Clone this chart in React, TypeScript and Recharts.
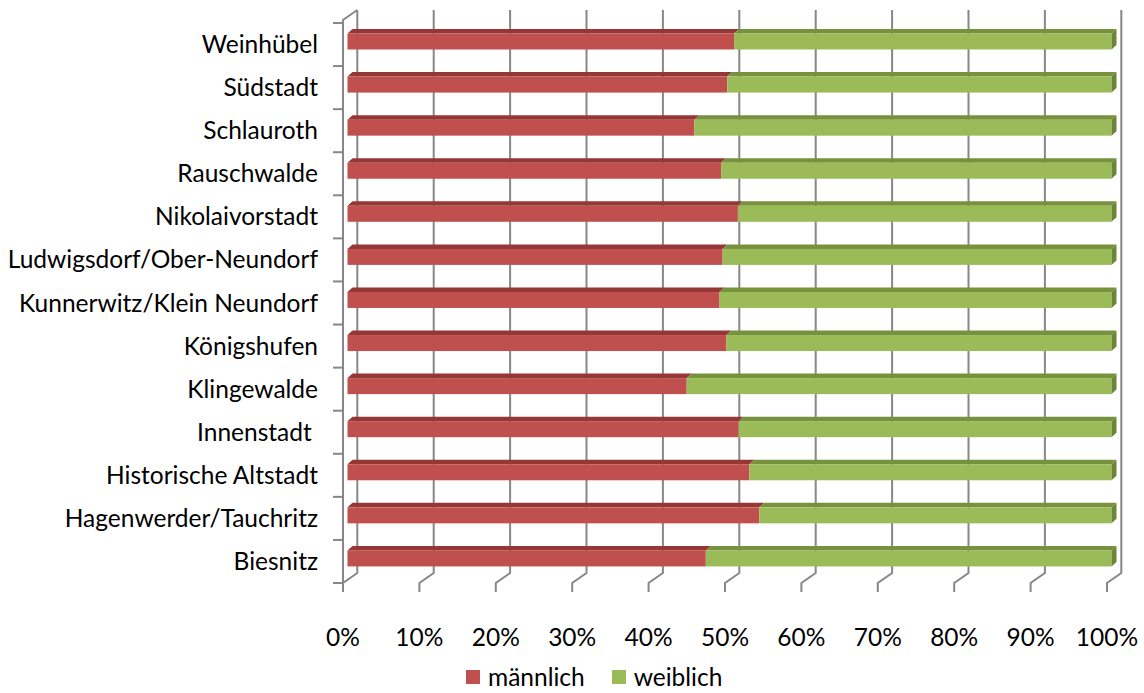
import React from "react";
import { Bar, BarChart, CartesianGrid, XAxis, YAxis } from "recharts";

const districts = [
  "Weinhübel",
  "Südstadt",
  "Schlauroth",
  "Rauschwalde",
  "Nikolaivorstadt",
  "Ludwigsdorf/Ober-Neundorf",
  "Kunnerwitz/Klein Neundorf",
  "Königshufen",
  "Klingewalde",
  "Innenstadt ",
  "Historische Altstadt",
  "Hagenwerder/Tauchritz",
  "Biesnitz",
];
const maleShare = [50.6, 49.7, 45.4, 48.9, 51.1, 49.1, 48.7, 49.6, 44.4, 51.2, 52.6, 53.9, 46.9];
const femaleShare = [49.4, 50.3, 54.6, 51.1, 48.9, 50.9, 51.3, 50.4, 55.6, 48.8, 47.4, 46.1, 53.1];
const percentTicks = [0, 10, 20, 30, 40, 50, 60, 70, 80, 90, 100];

const data = districts.map((name, i) => ({
  name,
  male: maleShare[i],
  female: femaleShare[i],
}));

const FONT = "Lato, 'Open Sans', sans-serif";
const FONT_SIZE = 24.5;
const GRID = "#878787";
const RED = "#c0504d";
const RED_TOP = "#943735";
const GREEN = "#9bbb59";
const GREEN_TOP = "#76923c";
const GREEN_SIDE = "#6b8636";

const PLOT_TOP = 23;
const PLOT_BOTTOM = 583;
const PLOT_LEFT = 343;
const BAND = (PLOT_BOTTOM - PLOT_TOP) / districts.length;

// depth of the 3d box: back wall sits up and right of the front edge
const WALL_DX = 14.3;
const WALL_DY = 10;

function bar3d(front: string, top: string, side?: string) {
  return (props: any) => {
    const { x, y, width, height } = props;
    const X = x + 4.5;
    const Y = y - 3.5;
    const dx = 5;
    const dy = 4.5;
    return (
      <g>
        <polygon
          points={`${X},${Y} ${X + dx},${Y - dy} ${X + width + dx},${Y - dy} ${X + width},${Y}`}
          fill={top}
        />
        <rect x={X} y={Y} width={width} height={height} fill={front} />
        {side && (
          <polygon
            points={`${X + width},${Y} ${X + width + dx},${Y - dy} ${X + width + dx},${Y - dy + height} ${X + width},${Y + height}`}
            fill={side}
          />
        )}
      </g>
    );
  };
}

function gridLine(props: any) {
  const { x1, y1, y2, key } = props;
  const bx = x1 + WALL_DX;
  const isLeft = Math.abs(x1 - PLOT_LEFT) < 1;
  return (
    <g key={key}>
      <path
        d={`M${bx},${y1 - 13} L${bx},${y2 - WALL_DY} L${x1},${y2} L${x1},${y2 + 9}`}
        stroke={GRID}
        strokeWidth={2}
        fill="none"
      />
      {isLeft && (
        <path
          d={`M${x1},${y2} L${x1},${y1 - 3} L${bx},${y1 - 13}`}
          stroke={GRID}
          strokeWidth={2}
          fill="none"
        />
      )}
    </g>
  );
}

function CategoryTick(props: any) {
  const { x, y, payload, index } = props;
  const last = index === districts.length - 1;
  return (
    <g>
      <line x1={x - 10} x2={x} y1={y - BAND / 2} y2={y - BAND / 2} stroke={GRID} strokeWidth={2} />
      {last && (
        <line x1={x - 10} x2={x} y1={y + BAND / 2} y2={y + BAND / 2} stroke={GRID} strokeWidth={2} />
      )}
      <text
        x={x - 25}
        y={y}
        dy="0.35em"
        textAnchor="end"
        fontFamily={FONT}
        fontSize={FONT_SIZE}
        fill="#000"
        style={{ whiteSpace: "pre" }}
      >
        {payload.value}
      </text>
    </g>
  );
}

function PercentTick(props: any) {
  const { x, y, payload } = props;
  return (
    <text x={x} y={y + 54} dy="0.35em" textAnchor="middle" fontFamily={FONT} fontSize={FONT_SIZE} fill="#000">
      {payload.value}%
    </text>
  );
}

function LegendRow() {
  const item = (color: string, label: string) => (
    <div style={{ display: "flex", alignItems: "center", marginRight: 27 }}>
      <div style={{ width: 14, height: 14, background: color, marginRight: 8 }} />
      <span>{label}</span>
    </div>
  );
  return (
    <div
      style={{
        position: "absolute",
        top: 662,
        left: 466,
        height: 30,
        display: "flex",
        alignItems: "center",
        fontFamily: FONT,
        fontSize: FONT_SIZE,
        lineHeight: "30px",
        color: "#000",
      }}
    >
      {item(RED, "männlich")}
      {item(GREEN, "weiblich")}
    </div>
  );
}

export default function App() {
  return (
    <div style={{ position: "absolute", top: 0, left: 0, width: 1144, height: 693, background: "#fff" }}>
      <BarChart
        width={1144}
        height={693}
        data={data}
        layout="vertical"
        margin={{ top: PLOT_TOP, right: 37, bottom: 0, left: 0 }}
        barSize={16}
      >
        <CartesianGrid horizontal={false} vertical={gridLine} />
        <XAxis
          type="number"
          domain={[0, 100]}
          ticks={percentTicks}
          axisLine={false}
          tickLine={false}
          tickSize={0}
          tickMargin={0}
          height={110}
          tick={<PercentTick />}
          interval={0}
        />
        <YAxis
          type="category"
          dataKey="name"
          width={PLOT_LEFT}
          axisLine={false}
          tickLine={false}
          tickSize={0}
          tickMargin={0}
          interval={0}
          tick={<CategoryTick />}
        />
        <Bar dataKey="male" stackId="a" fill={RED} isAnimationActive={false} shape={bar3d(RED, RED_TOP)} />
        <Bar
          dataKey="female"
          stackId="a"
          fill={GREEN}
          isAnimationActive={false}
          shape={bar3d(GREEN, GREEN_TOP, GREEN_SIDE)}
        />
      </BarChart>
      <LegendRow />
    </div>
  );
}
